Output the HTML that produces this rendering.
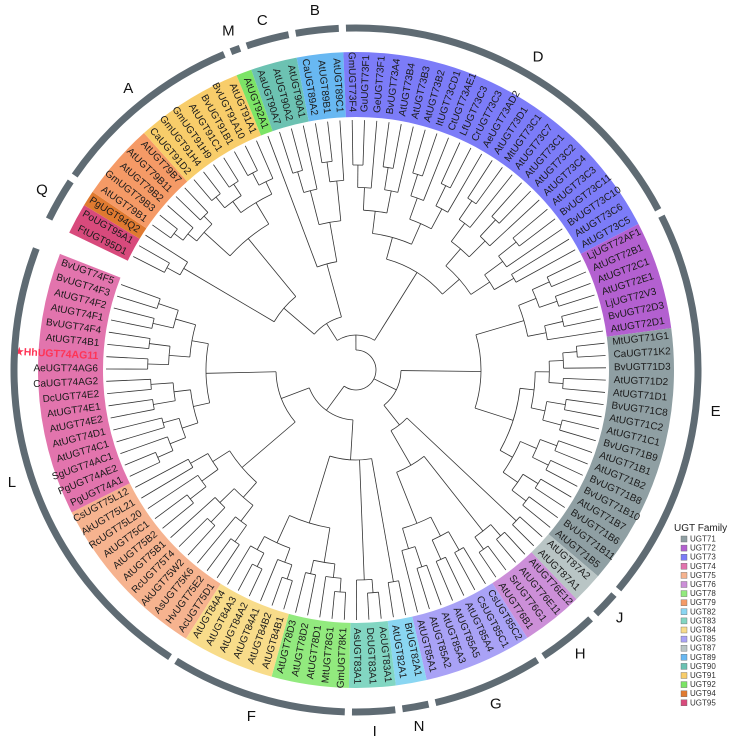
<!DOCTYPE html>
<html><head><meta charset="utf-8">
<style>
html,body{margin:0;padding:0;background:#fff;}
svg{display:block;font-family:"Liberation Sans",sans-serif;}
</style></head>
<body>
<svg id="chart" width="739" height="739" viewBox="0 0 739 739" xmlns="http://www.w3.org/2000/svg">
<g id="bands"></g>
<g id="tree" fill="none" stroke="#333" stroke-width="0.8"></g>
<g id="labels"></g>
<g id="rings"></g>
<g id="legend"></g>
</svg>
<script>
const leafNames = ["FtUGT95D1","PoUGT95A1","PgUGT94Q2",
"AtUGT79B1","GmUGT79B3","AtUGT79B2","AtUGT79B11","AtUGT79B7",
"CaUGT91D2","GmUGT91H4","GmUGT91H9","AtUGT91C1","BvUGT91B1","BvUGT91A10","AtUGT91A1",
"AtUGT92A1",
"AaUGT90A7","AtUGT90A2","AtUGT90A1",
"CaUGT89A2","AtUGT89B1","AtUGT89C1",
"GmUGT73F4","GuUGT73F1","GeUGT73F1","BvUGT73A4","AtUGT73B4","AtUGT73B3","AtUGT73B2","ItUGT73CD1","CtUGT73AE1","LfUGT73C3","CrUGT73C3","AeUGT73AD2","AtUGT73D1","MtUGT73C1","AtUGT73C7","AtUGT73C1","AtUGT73C2","AtUGT73C4","AtUGT73C3","BvUGT73C11","BvUGT73C10","AtUGT73C6","AtUGT73C5",
"LjUGT72AF1","AtUGT72B1","AtUGT72C1","AtUGT72E1","LjUGT72V3","BvUGT72D3","AtUGT72D1",
"MtUGT71G1","CaUGT71K2","BvUGT71D3","AtUGT71D2","AtUGT71D1","BvUGT71C8","AtUGT71C2","AtUGT71C1","BvUGT71B9","AtUGT71B1","AtUGT71B2","BvUGT71B8","BvUGT71B10","AtUGT71B7","BvUGT71B6","BvUGT71B11","AtUGT71B5",
"AtUGT87A2","AtUGT87A1",
"AtUGT76E12","AtUGT76E11","SrUGT76G1","AtUGT76B1",
"CsUGT85C2","CsUGT85C1","AtUGT85A4","AtUGT85A5","AtUGT85A3","AtUGT85A2","AtUGT85A1",
"BrUGT82A1","AtUGT82A1",
"AcUGT83A1","DcUGT83A1","AsUGT83A1",
"GmUGT78K1","MtUGT78G1","AtUGT78D1","AtUGT78D2","AtUGT78D3",
"AtUGT84B1","AtUGT84B2","AtUGT84A1","AtUGT84A2","AtUGT84A3","AtUGT84A4",
"AcUGT75D1","HvUGT75E2","AsUGT75K6","AkUGT75W2","RcUGT75T4","AtUGT75B1","AtUGT75B2","AtUGT75C1","RcUGT75L20","AkUGT75L21","CsUGT75L12",
"PgUGT74A1","PgUGT74AE2","SgUGT74AC1","AtUGT74C1","AtUGT74D1","AtUGT74E2","AtUGT74E1","DcUGT74E2","CaUGT74AG2","AeUGT74AG6","HhUGT74AG11","AtUGT74B1","BvUGT74F4","AtUGT74F1","AtUGT74F2","BvUGT74F3","BvUGT74F5"];
const familyNames = ["UGT71","UGT72","UGT73","UGT74","UGT75","UGT76","UGT78","UGT79","UGT82","UGT83","UGT84","UGT85","UGT87","UGT89","UGT90","UGT91","UGT92","UGT94","UGT95"];
const familyColors = ["#8f9fa3","#b360d0","#7c7cf8","#e274ad","#f6b38f","#cc8fd8","#92ea7e","#f59a66","#8ad6f2","#82d6c2","#f8dc8a","#a9a2f6","#b9c5c5","#68b8f2","#6cc2b2","#f8cd6a","#7ce466","#e07a30","#d84a7c"];
const cladeLetters = ["Q","A","M","C","B","D","E","J","H","G","N","I","F","L"];
const cladeStart = [0,3,15,16,19,22,45,69,71,75,82,84,87,98];
const cladeEnd   = [2,14,15,18,21,44,68,70,74,81,83,86,97,125];
const highlightLeaf = "HhUGT74AG11";

const NS="http://www.w3.org/2000/svg";
const cx=356, cy=370, startAng=207, gapDeg=7;
const step=(360-gapDeg)/(leafNames.length-1);
const famOf = n => "UGT"+n.match(/UGT(\d+)/)[1];
function ang(i){return startAng+i*step;}
function pt(r,a){const t=a*Math.PI/180;return [cx+r*Math.cos(t),cy+r*Math.sin(t)];}
function arcPath(r,a1,a2){const p1=pt(r,a1),p2=pt(r,a2);const large=(a2-a1)>180?1:0;return `M${p1[0].toFixed(2)},${p1[1].toFixed(2)} A${r},${r} 0 ${large} 1 ${p2[0].toFixed(2)},${p2[1].toFixed(2)}`;}
function mk(tag,attrs,parent){const e=document.createElementNS(NS,tag);for(const k in attrs)e.setAttribute(k,attrs[k]);parent.appendChild(e);return e;}

const bands=document.getElementById('bands');
let s=0;
for(let i=1;i<=leafNames.length;i++){
  if(i===leafNames.length||famOf(leafNames[i])!==famOf(leafNames[s])){
    const a1=ang(s)-step/2,a2=ang(i-1)+step/2,R1=253,R2=318;
    const p1=pt(R2,a1),p2=pt(R2,a2),p3=pt(R1,a2),p4=pt(R1,a1);
    const lg=(a2-a1)>180?1:0;
    const f=famOf(leafNames[s]);
    const p=mk('path',{d:`M${p1} A${R2},${R2} 0 ${lg} 1 ${p2} L${p3} A${R1},${R1} 0 ${lg} 0 ${p4} Z`,fill:familyColors[familyNames.indexOf(f)]},bands);
    
    
    s=i;
  }
}

const tree=document.getElementById('tree');
const TIP=250;
function famRange(f){let lo=-1,hi=-1;leafNames.forEach((n,i)=>{if(famOf(n)===f){if(lo<0)lo=i;hi=i;}});return [lo,hi];}
function split(lo,hi,r){
  if(lo===hi) return {leaf:lo};
  const n=hi-lo+1,d=Math.ceil(Math.log2(n));
  const cr=r+(TIP-r)/(d+1);
  const mid=Math.floor((lo+hi)/2);
  return {r:r,kids:[split(lo,mid,cr),split(mid+1,hi,cr)]};
}
function F(f,r){const [lo,hi]=famRange(f);return split(lo,hi,r);}
function N(r,kids){return {r:r,kids:kids};}
const T=N(20,[
  N(35,[N(55,[N(95,[N(200,[F("UGT95",215),F("UGT94",225)]),N(170,[F("UGT79",205),F("UGT91",195)])]),N(110,[F("UGT92",200),N(150,[F("UGT90",185),F("UGT89",190)])])]),F("UGT73",115)]),
  N(45,[N(125,[F("UGT72",175),F("UGT71",165)]),N(70,[F("UGT87",220),N(110,[F("UGT76",205),F("UGT85",165)])])]),
  N(50,[N(90,[F("UGT82",215),F("UGT83",210),N(160,[F("UGT78",195),F("UGT84",190)])]),N(80,[F("UGT75",150),F("UGT74",150)])])
]);
function draw(node,parentR){
  let a,r;
  if(node.leaf!==undefined){a=ang(node.leaf);r=TIP;}
  else{
    const as=node.kids.map(k=>draw(k,node.r));
    r=node.r;
    const arc=mk('path',{d:arcPath(r,as[0],as[as.length-1])},tree);
    
    
    a=(as[0]+as[as.length-1])/2;
  }
  if(parentR!==null){
    const p1=pt(parentR,a),p2=pt(r,a);
    const l=mk('line',{x1:p1[0],y1:p1[1],x2:p2[0],y2:p2[1]},tree);
    
    
  }
  return a;
}
draw(T,null);

const labels=document.getElementById('labels');
leafNames.forEach((n,i)=>{
  const a=ang(i);const na=((a%360)+360)%360;
  const left=na>90&&na<270;
  const p=pt(258,a);
  const hl=n===highlightLeaf;
  const t=mk('text',{x:p[0],y:p[1],'font-size':hl?10.5:10,'dominant-baseline':'central','text-anchor':left?'end':'start',transform:`rotate(${left?a+180:a} ${p[0]} ${p[1]})`,fill:hl?'#ff3355':'#1a1a1a','font-weight':hl?'bold':'normal'},labels);
  t.textContent=hl?'★'+n:n;
  
  
});

const rings=document.getElementById('rings');
cladeLetters.forEach((L,k)=>{
  const a1=ang(cladeStart[k])-step/2+0.6,a2=ang(cladeEnd[k])+step/2-0.6;
  const p=mk('path',{d:arcPath(342,a1,a2),fill:'none',stroke:'#5f6b73','stroke-width':7},rings);
  
  
  const q=pt(362,(a1+a2)/2);
  const t=mk('text',{x:q[0],y:q[1],'font-size':15,'text-anchor':'middle','dominant-baseline':'central',fill:'#111'},rings);
  t.textContent=L;
  
  
});

const lg=document.getElementById('legend');
const tt=mk('text',{x:674,y:531,'font-size':10,fill:'#222'},lg);
tt.textContent='UGT Family';


familyNames.forEach((f,i)=>{
  const y=539+i*9.1;
  const r=mk('rect',{x:681,y:y-3,width:6,height:6,fill:familyColors[i],stroke:'#666','stroke-width':0.4},lg);
  
  
  const t=mk('text',{x:690,y:y,'font-size':8,'dominant-baseline':'central',fill:'#333'},lg);
  t.textContent=f;
  
  
});
</script>
</body></html>
